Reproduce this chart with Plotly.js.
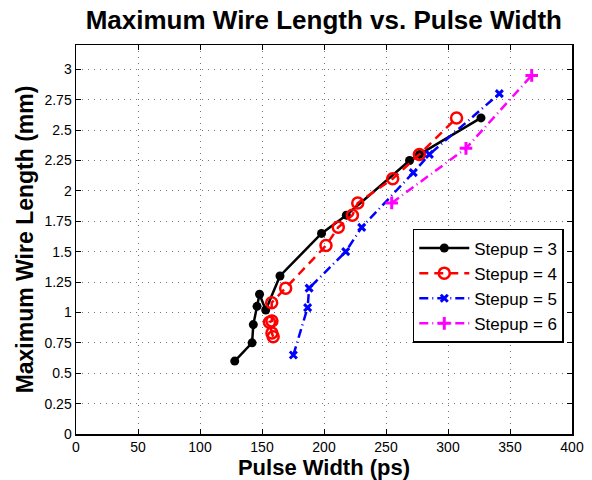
<!DOCTYPE html>
<html>
<head>
<meta charset="utf-8">
<script src="https://cdn.plot.ly/plotly-3.0.1.min.js"></script>
<style>html,body{margin:0;padding:0;background:#fff;}#chart{width:592px;height:480px;}</style>
</head>
<body>
<div id="chart"></div>
<script>
// Stepup = 3
const x3 = [128, 142, 143, 146, 148, 153, 164.5, 198, 218, 269, 277, 326.6];
const y3 = [0.6, 0.75, 0.9, 1.05, 1.15, 1.02, 1.3, 1.65, 1.8, 2.25, 2.3, 2.6];
// Stepup = 4
const x4 = [159, 158, 156, 158, 157.8, 169.1, 201.6, 211.5, 222.9, 227.2, 255.4, 276.9, 306.9];
const y4 = [0.8, 0.83, 0.92, 0.93, 1.08, 1.2, 1.55, 1.7, 1.8, 1.9, 2.1, 2.3, 2.6];
// Stepup = 5
const x5 = [175.3, 186.8, 188, 217.5, 230.4, 272, 285, 341.4];
const y5 = [0.65, 1.04, 1.2, 1.5, 1.7, 2.15, 2.3, 2.8];
// Stepup = 6
const x6 = [254.6, 314.5, 367.5];
const y6 = [1.9, 2.35, 2.95];

const names = ['Stepup = 3', 'Stepup = 4', 'Stepup = 5', 'Stepup = 6'];
const xTicks = [0, 50, 100, 150, 200, 250, 300, 350, 400];
const yTicks = [0, 0.25, 0.5, 0.75, 1, 1.25, 1.5, 1.75, 2, 2.25, 2.5, 2.75, 3];
const yTickText = ['0', '0.25', '0.5', '0.75', '1', '1.25', '1.5', '1.75', '2', '2.25', '2.5', '2.75', '3'];

const traces = [
  {x: x3, y: y3, name: names[0], mode: 'lines+markers',
   line: {color: '#000000', width: 2.5, dash: 'solid'},
   marker: {symbol: 'circle', size: 9, color: '#000000'}},
  {x: x4, y: y4, name: names[1], mode: 'lines+markers',
   line: {color: '#ff0000', width: 2.5, dash: '9px,6px'},
   marker: {symbol: 'circle-open', size: 11, color: '#ff0000', line: {width: 2.5, color: '#ff0000'}}},
  {x: x5, y: y5, name: names[2], mode: 'lines+markers',
   line: {color: '#0000ff', width: 2.5, dash: '9px,4px,1px,4px'},
   marker: {symbol: 'x-thin', size: 7, color: '#0000ff', line: {width: 3, color: '#0000ff'}}},
  {x: x6, y: y6, name: names[3], mode: 'lines+markers',
   line: {color: '#ff00ff', width: 2.5, dash: '9px,4px,1px,4px'},
   marker: {symbol: 'cross-thin', size: 9, color: '#ff00ff', line: {width: 3, color: '#ff00ff'}}}
];

const axisCommon = {
  showline: true, linecolor: '#000', linewidth: 1.5, mirror: 'ticks',
  ticks: 'inside', ticklen: 5, tickcolor: '#000', tickwidth: 1,
  showgrid: true, gridcolor: '#777', griddash: '1px,5px', gridwidth: 1,
  zeroline: false,
  tickfont: {family: 'Liberation Sans, Arial, sans-serif', size: 14, color: '#000'}
};

const layout = {
  width: 592, height: 480,
  margin: {l: 76, r: 20, t: 45, b: 46},
  paper_bgcolor: '#fff', plot_bgcolor: '#fff',
  title: {text: '<b>Maximum Wire Length vs. Pulse Width</b>',
          font: {family: 'Liberation Sans, Arial, sans-serif', size: 26, color: '#000'},
          x: 0.547, xanchor: 'center', y: 0.958, yanchor: 'middle'},
  xaxis: Object.assign({}, axisCommon, {
    range: [0, 400], tickvals: xTicks, ticktext: xTicks.map(String),
    title: {text: '<b>Pulse Width (ps)</b>', standoff: 2,
            font: {family: 'Liberation Sans, Arial, sans-serif', size: 22, color: '#000'}}
  }),
  yaxis: Object.assign({}, axisCommon, {
    range: [0, 3.2], tickvals: yTicks, ticktext: yTickText,
    title: {text: '<b>Maximum Wire Length (mm)</b>', standoff: 4,
            font: {family: 'Liberation Sans, Arial, sans-serif', size: 23, color: '#000'}}
  }),
  showlegend: true,
  legend: {x: 0.679, y: 0.527, xanchor: 'left', yanchor: 'top',
           bgcolor: '#fff', bordercolor: '#000', borderwidth: 1.5,
           font: {family: 'Liberation Sans, Arial, sans-serif', size: 17, color: '#000'},
           tracegroupgap: 2, itemwidth: 50}
};

Plotly.newPlot('chart', traces, layout, {displayModeBar: false, staticPlot: true});
</script>
</body>
</html>
